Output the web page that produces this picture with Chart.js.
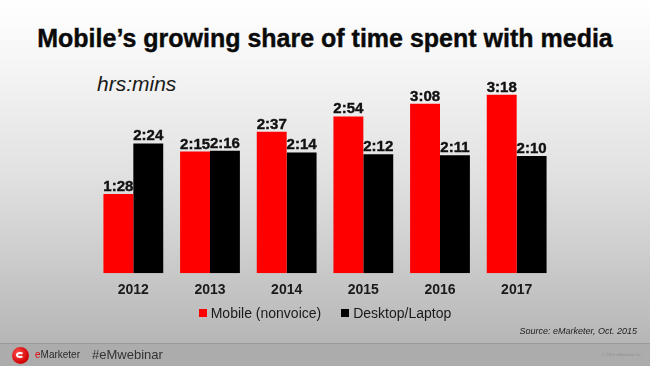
<!DOCTYPE html>
<html>
<head>
<meta charset="utf-8">
<script src="https://cdn.jsdelivr.net/npm/chart.js@4.4.1/dist/chart.umd.min.js"></script>
<style>
    html, body {
        margin: 0;
        padding: 0;
    }
    body {
        width: 650px;
        height: 366px;
        position: relative;
        overflow: hidden;
        font-family: "Liberation Sans", Arial, sans-serif;
        background: linear-gradient(to bottom, #ffffff 0px, #f6f6f6 60px, #e2e2e2 170px, #c9c9c9 270px, #b6b6b6 343px);
    }
    #title {
        position: absolute;
        left: 0;
        width: 650px;
        top: 24px;
        text-align: center;
        font-weight: bold;
        font-size: 25px;
        color: #0a0a0a;
        -webkit-text-stroke: 0.4px #0a0a0a;
    }
    #units {
        position: absolute;
        left: 97px;
        top: 72px;
        font-style: italic;
        font-size: 21px;
        color: #1a1a1a;
    }
    #chart {
        position: absolute;
        left: 0;
        top: 0;
    }
    #legend {
        position: absolute;
        left: 0;
        width: 650px;
        top: 305px;
        text-align: center;
        font-size: 14px;
        color: #1a1a1a;
    }
    #legend span.item {
        display: inline-block;
        margin: 0 10px;
    }
    #legend span.box {
        display: inline-block;
        width: 8px;
        height: 8px;
        margin-right: 4px;
        vertical-align: 1px;
    }
    #source {
        position: absolute;
        right: 13px;
        top: 326px;
        font-style: italic;
        font-size: 9px;
        color: #222;
    }
    #footer {
        position: absolute;
        left: 0;
        top: 343px;
        width: 650px;
        height: 23px;
        background: #acacac;
        border-top: 1px solid #9a9a9a;
    }
    #logo {
        position: absolute;
        left: 12px;
        top: 3px;
        width: 17px;
        height: 17px;
        border-radius: 50%;
        background: radial-gradient(circle at 35% 35%, #ff4a4a, #d00000 70%, #a00000);
    }
    #logo i {
        position: absolute;
        left: 4px;
        top: 5px;
        width: 8px;
        height: 6px;
        border-radius: 50%;
        border: 2px solid #fff;
        border-right-color: transparent;
        box-sizing: border-box;
    }
    #brand {
        position: absolute;
        left: 35px;
        top: 5px;
        font-size: 10px;
        color: #2a2a2a;
    }
    #brand b {
        color: #e00000;
        font-weight: normal;
    }
    #tag {
        position: absolute;
        left: 92px;
        top: 3px;
        font-size: 13px;
        color: #333;
    }
    #copy {
        position: absolute;
        right: 8px;
        top: 8px;
        font-size: 4px;
        color: #8e8e8e;
    }
</style>
</head>
<body>
<div id="title">Mobile’s growing share of time spent with media</div>
<div id="units">hrs:mins</div>
<canvas id="chart" width="650" height="366"></canvas>
<div id="legend"></div>
<div id="source">Source: eMarketer, Oct. 2015</div>
<div id="footer">
    <div id="logo"><i></i></div>
    <div id="brand"><b>e</b>Marketer</div>
    <div id="tag">#eMwebinar</div>
    <div id="copy">© 2015 eMarketer Inc.</div>
</div>

<script>
// data (minutes per day)
let years = ["2012", "2013", "2014", "2015", "2016", "2017"];
let mobileMins = [88, 135, 157, 174, 188, 198];
let desktopMins = [144, 136, 134, 132, 131, 130];
let seriesNames = ["Mobile (nonvoice)", "Desktop/Laptop"];

// 88 -> "1:28"
function toHrsMins(m) {
    let h = Math.floor(m / 60);
    let mm = m % 60;
    return h + ":" + (mm < 10 ? "0" + mm : mm);
}

// labels over the bars
const barLabels = {
    id: "barLabels",
    afterDatasetsDraw(chart) {
        let ctx = chart.ctx;
        ctx.save();
        ctx.font = "bold 15px 'Liberation Sans', Arial, sans-serif";
        ctx.fillStyle = "#111";
        ctx.strokeStyle = "#111";
        ctx.lineWidth = 0.4;
        ctx.textAlign = "center";
        ctx.textBaseline = "alphabetic";
        chart.data.datasets.forEach((ds, i) => {
            chart.getDatasetMeta(i).data.forEach((bar, j) => {
                let txt = toHrsMins(ds.data[j]);
                ctx.fillText(txt, bar.x, bar.y - 3);
                ctx.strokeText(txt, bar.x, bar.y - 3);
            });
        });
        ctx.restore();
    }
};

let ctx = document.getElementById("chart").getContext("2d");

let chart = new Chart(ctx, {
    type: "bar",
    data: {
        labels: years,
        datasets: [{
            label: seriesNames[0],
            data: mobileMins,
            backgroundColor: "#ff0000"
        }, {
            label: seriesNames[1],
            data: desktopMins,
            backgroundColor: "#000000"
        }]
    },
    options: {
        responsive: false,
        animation: false,
        devicePixelRatio: 1,
        layout: {
            padding: { left: 95, right: 95, top: 75, bottom: 58 }
        },
        datasets: {
            bar: {
                barPercentage: 1,
                categoryPercentage: 0.78
            }
        },
        plugins: {
            legend: { display: false },
            tooltip: { enabled: false }
        },
        scales: {
            x: {
                grid: { display: false, drawTicks: false },
                border: { display: false },
                ticks: {
                    padding: 9,
                    color: "#1a1a1a",
                    font: { family: "'Liberation Sans', Arial, sans-serif", size: 14, weight: "bold" }
                }
            },
            y: {
                display: false,
                min: 0,
                max: 220
            }
        }
    },
    plugins: [barLabels]
});

// legend from the chart's datasets
let legend = document.getElementById("legend");
chart.data.datasets.forEach(ds => {
    legend.innerHTML += `<span class="item"><span class="box" style="background:${ds.backgroundColor}"></span>${ds.label}</span>`;
});
</script>
</body>
</html>
